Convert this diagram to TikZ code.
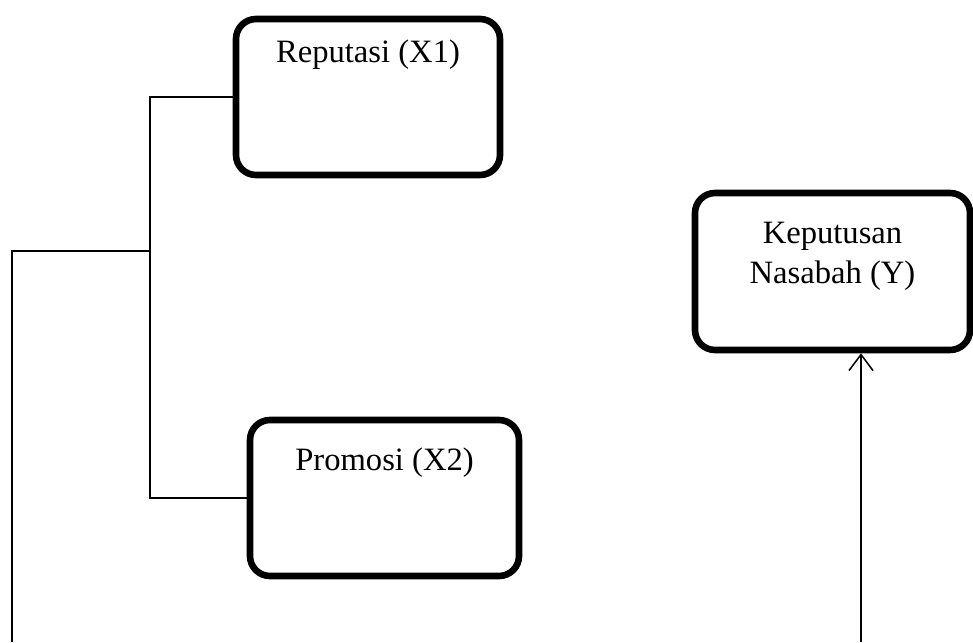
\documentclass[tikz,border=0pt]{standalone}
\usepackage{fontspec}
\setmainfont{Liberation Serif}
\usetikzlibrary{arrows.meta,positioning}

\begin{document}
\begin{tikzpicture}[
        x=0.5pt, y=-0.5pt,
        every node/.style={font=\fontsize{16.3}{20}\selectfont, align=center},
        every path/.style={line width=0.75pt},
        varbox/.style={draw, line width=3.3pt, rounded corners=10pt, inner xsep=0pt, inner ysep=0pt},
        >={Straight Barb[length=8pt,width=12pt]}
    ]
    \useasboundingbox (0,0) rectangle (973,642);

    % Nodes
      \node (rep)[varbox, minimum width=132pt, text height=22pt, text depth=56pt] at (368,97) {Reputasi (X1)};
      \node (prom)[varbox, minimum width=134.5pt, text height=25pt, text depth=53pt] at (384.5,498) {Promosi (X2)};
      \node (kep)[varbox, minimum width=137.5pt, text height=45pt, text depth=33.5pt] at (832.5,271.5) {Keputusan\\Nasabah (Y)};

      \coordinate (jn) at (150,251);
      \coordinate (lb) at (12,642);
      \coordinate (rb) at (861,642);

    \draw (rep.west) -| (jn) |- (prom.west);
    \draw (jn) -| (lb);
    \draw[->] (rb) -- (kep.south -| rb);

\end{tikzpicture}
\end{document}
